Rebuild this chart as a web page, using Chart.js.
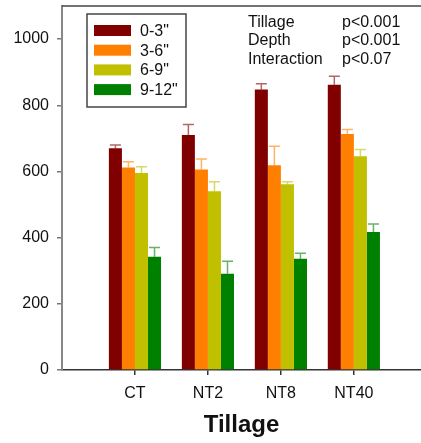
<!DOCTYPE html>
<html>
<head>
<meta charset="utf-8">
<script src="https://cdn.jsdelivr.net/npm/chart.js@4"></script>
<style>
  html, body { margin: 0; padding: 0; background: #fff; }
  #wrap { width: 421px; height: 443px; }
</style>
</head>
<body>
<div id="wrap"><canvas id="chart" width="421" height="443"></canvas></div>
<script>
// tillage treatments, placed at x = 1..4 on the axis
const categories = ['CT', 'NT2', 'NT8', 'NT40'];
const positions = [1, 2, 3, 4];

const depths = ['0-3"', '3-6"', '6-9"', '9-12"'];
const colors = ['#800000', '#ff8000', '#c0c000', '#008000'];
const errColors = ['rgba(128,0,0,0.6)', 'rgba(255,128,0,0.6)', 'rgba(192,192,0,0.6)', 'rgba(0,128,0,0.6)'];

// means per depth (CT, NT2, NT8, NT40)
const depth0_3 = [670, 710, 848, 862];
const depth3_6 = [612, 606, 619, 713];
const depth6_9 = [595, 540, 561, 646];
const depth9_12 = [342, 291, 336, 417];

// standard errors (upper bars only)
const se0_3 = [10, 32, 17, 26];
const se3_6 = [17, 32, 57, 14];
const se6_9 = [19, 29, 8, 20];
const se9_12 = [28, 38, 17, 24];

const yTicks = [0, 200, 400, 600, 800, 1000];

const stats = [
    ['Tillage', 'p<0.001'],
    ['Depth', 'p<0.001'],
    ['Interaction', 'p<0.07']
];

const means = [depth0_3, depth3_6, depth6_9, depth9_12];
const errs = [se0_3, se3_6, se6_9, se9_12];

const FONT = '"Liberation Sans", Arial, sans-serif';

const errorBars = {
    id: 'errorBars',
    afterDatasetsDraw(chart) {
        const ctx = chart.ctx;
        const y = chart.scales.y;
        ctx.save();
        chart.data.datasets.forEach((ds, di) => {
            const meta = chart.getDatasetMeta(di);
            meta.data.forEach((bar, i) => {
                const top = y.getPixelForValue(means[di][i] + errs[di][i]);
                const half = bar.width / 2 - 1;
                ctx.strokeStyle = errColors[di];
                ctx.lineWidth = 1.5;
                ctx.beginPath();
                ctx.moveTo(bar.x, bar.y);
                ctx.lineTo(bar.x, top);
                ctx.moveTo(bar.x - half, top);
                ctx.lineTo(bar.x + half, top);
                ctx.stroke();
            });
        });
        ctx.restore();
    }
};

const decorations = {
    id: 'decorations',
    afterDraw(chart) {
        const ctx = chart.ctx;
        const a = chart.chartArea;
        ctx.save();
        // top frame line
        ctx.strokeStyle = '#444';
        ctx.lineWidth = 1.5;
        ctx.beginPath();
        ctx.moveTo(a.left, a.top);
        ctx.lineTo(a.right, a.top);
        ctx.stroke();

        // legend box
        ctx.strokeStyle = '#444';
        ctx.lineWidth = 1.5;
        ctx.strokeRect(87, 14, 99, 93);
        ctx.font = '16px ' + FONT;
        ctx.textBaseline = 'middle';
        ctx.textAlign = 'left';
        depths.forEach((d, i) => {
            const cy = 30.5 + i * 19.7;
            ctx.fillStyle = colors[i];
            ctx.fillRect(94, cy - 5.5, 37, 11);
            ctx.fillStyle = '#111';
            ctx.fillText(d, 140, cy + 1);
        });

        // stats text
        stats.forEach((row, i) => {
            const cy = 22.5 + i * 18.5;
            ctx.fillStyle = '#111';
            ctx.fillText(row[0], 248, cy);
            ctx.fillText(row[1], 342, cy);
        });
        ctx.restore();
    }
};

new Chart(document.getElementById('chart'), {
    type: 'bar',
    data: {
        datasets: depths.map((d, i) => ({
            label: d,
            data: positions.map((x, j) => ({ x: x, y: means[i][j] })),
            backgroundColor: colors[i],
            borderWidth: 0,
            barPercentage: 1,
            categoryPercentage: 0.715
        }))
    },
    options: {
        responsive: false,
        animation: false,
        layout: { padding: { top: 6, right: 0, left: 0, bottom: 0 } },
        plugins: {
            legend: { display: false },
            tooltip: { enabled: false }
        },
        scales: {
            x: {
                type: 'linear',
                offset: false,
                min: 0,
                max: 4.92,
                afterBuildTicks: (s) => { s.ticks = positions.map(v => ({ value: v })); },
                afterFit: (s) => { s.height = 73; s.paddingLeft = 0; s.paddingRight = 0; },
                ticks: {
                    callback: (v) => categories[positions.indexOf(v)],
                    font: { family: FONT, size: 16 },
                    color: '#111',
                    padding: 9,
                    autoSkip: false,
                    maxRotation: 0
                },
                grid: { offset: false, drawOnChartArea: false, tickLength: 5, color: '#333', lineWidth: 1.5 },
                border: { color: '#333', width: 1.5 },
                title: {
                    display: true,
                    text: 'Tillage',
                    font: { family: FONT, size: 24, weight: 'bold' },
                    color: '#111',
                    padding: { top: 0, bottom: 3 }
                }
            },
            y: {
                min: 0,
                max: 1100,
                afterBuildTicks: (s) => { s.ticks = yTicks.map(v => ({ value: v })); },
                afterFit: (s) => { s.width = 62; s.paddingTop = 0; s.paddingBottom = 0; },
                ticks: {
                    callback: (v) => String(v),
                    font: { family: FONT, size: 16 },
                    color: '#111',
                    padding: 8
                },
                grid: { drawOnChartArea: false, tickLength: 5, color: '#777', lineWidth: 1.5 },
                border: { color: '#888', width: 2 }
            }
        }
    },
    plugins: [errorBars, decorations]
});
</script>
</body>
</html>
